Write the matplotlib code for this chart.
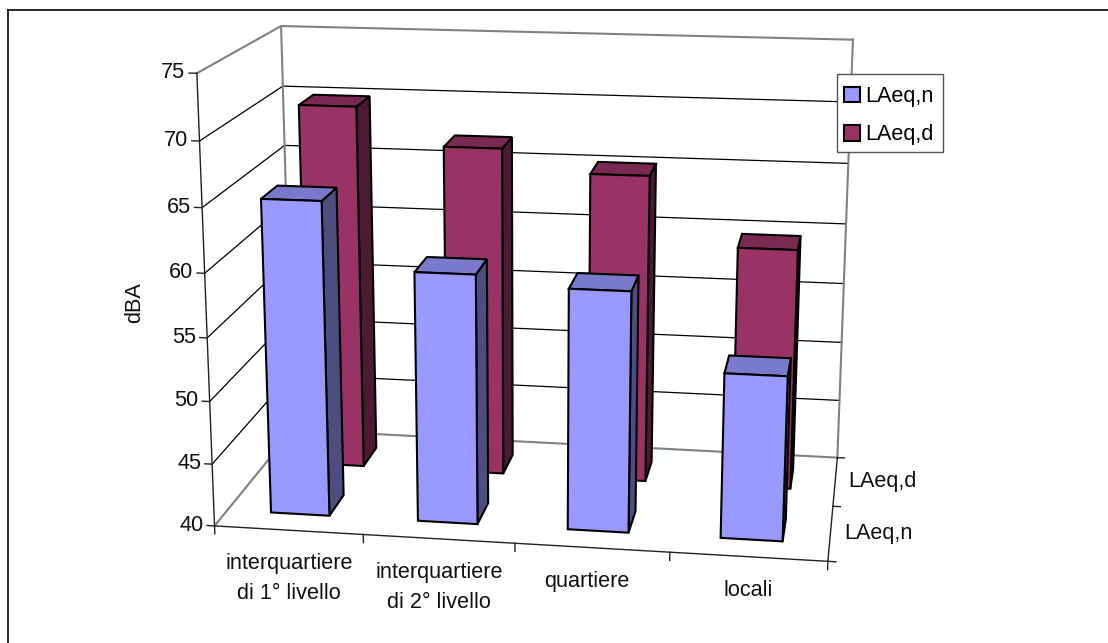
import numpy as np
import matplotlib
matplotlib.use("Agg")
import matplotlib.pyplot as plt
from matplotlib.patches import Patch, Rectangle
from mpl_toolkits.mplot3d.art3d import Poly3DCollection

plt.rcParams['font.family'] = ['Liberation Sans', 'DejaVu Sans']

# ========== 1. Data ==========
categories = ["interquartiere\ndi 1° livello", "interquartiere\ndi 2° livello", "quartiere", "locali"]
series_names = ["LAeq,n", "LAeq,d"]
laeq_n = [65, 59.8, 59, 53]
laeq_d = [70, 67, 65.2, 59.7]
dba_ticks = [40, 45, 50, 55, 60, 65, 70, 75]
dba_min = 40
dba_max = 75

W, H = 1108, 643
FONT = 15.6

# camera: box corners (category, series, dBA) -> pixel position in the figure
cam_box = np.array([
    [0, 0, 40], [4, 0, 40], [0, 2, 40], [4, 2, 40],
    [0, 0, 75], [0, 2, 75], [4, 2, 75],
    [0, 0, 70], [0, 2, 70], [0, 0, 45],
    [1, 0, 40], [2, 0, 40], [4, 1, 40],
], dtype=float)
cam_px = np.array([
    [215, 526], [827, 562], [292, 430], [838, 456],
    [197, 73], [281, 26], [853, 40],
    [199, 140], [283, 87], [213, 464],
    [363, 535], [515, 543], [833, 507],
], dtype=float)


def fit_camera(box, px):
    # direct linear transform on scaled coordinates
    S = np.array([[1/4, 0, 0, 0], [0, 1/2, 0, 0], [0, 0, 1/35, -40/35], [0, 0, 0, 1]])
    X = (S @ np.c_[box, np.ones(len(box))].T).T
    u = px[:, 0] / 1000
    v = (H - px[:, 1]) / 1000
    rows = []
    for Xi, ui, vi in zip(X, u, v):
        rows.append(np.r_[Xi, 0, 0, 0, 0, -ui * Xi])
        rows.append(np.r_[0, 0, 0, 0, Xi, -vi * Xi])
    p = np.linalg.svd(np.array(rows))[2][-1].reshape(3, 4)
    return np.diag([1000, 1000, 1]) @ p @ S


# ========== 2. Axes ==========
fig = plt.figure(figsize=(W / 100, H / 100), dpi=100, facecolor='white')
side = W / H
ax = fig.add_axes([0, (1 - side) / 2, 1, side], projection='3d', computed_zorder=False)
ax.set_axis_off()
ax.patch.set_visible(False)
for axis in (ax.xaxis, ax.yaxis, ax.zaxis):
    axis.set_visible(False)
    axis.label.set_visible(False)
    axis.offsetText.set_visible(False)
ax.apply_aspect()

P = ax.transData.inverted().get_matrix() @ fit_camera(cam_box, cam_px)
if P[2] @ np.array([2, 1, 57, 1]) < 0:
    P = -P
# depth must stay negative or Line3D clips the point
M = np.vstack([P[0], P[1], [0, 1, 0, -3], P[2]])
ax.get_proj = lambda: M

n_cat = len(categories)
n_ser = len(series_names)
gray = '#808080'
dark = '#222222'

# ========== 3. Walls and axis lines ==========
for z in dba_ticks:
    c = gray if z in (dba_min, dba_max) else 'black'
    ax.plot([0, 0, n_cat], [0, n_ser, n_ser], [z, z, z], color=c,
            lw=1.5 if c == gray else 0.9, zorder=1, solid_joinstyle='miter')
for x in (0, n_cat):
    ax.plot([x, x], [n_ser, n_ser], [dba_min, dba_max], color=gray, lw=1.5, zorder=1)

ax.plot([0, 0], [0, 0], [dba_min, dba_max], color=dark, lw=1.0, zorder=1.5)
ax.plot([0, n_cat], [0, 0], [dba_min, dba_min], color=dark, lw=1.0, zorder=1.5)
ax.plot([n_cat, n_cat], [0, n_ser], [dba_min, dba_min], color=dark, lw=1.0, zorder=1.5)

for z in dba_ticks:
    ax.plot([-0.05, 0], [0, 0], [z, z], color=dark, lw=1.0, zorder=1.5)
    ax.text(-0.075, 0, z, str(z), ha='right', va='center', fontsize=FONT, color='#111111')
for i in range(n_cat + 1):
    ax.plot([i, i], [0, 0], [dba_min - 0.65, dba_min], color=dark, lw=1.0, zorder=1.5)
for j in range(n_ser + 1):
    ax.plot([n_cat, n_cat + 0.05], [j, j], [dba_min, dba_min], color=dark, lw=1.0, zorder=1.5)

label_x = [0.5, 1.5, 2.47, 3.5]
for lx, cat in zip(label_x, categories):
    ax.text(lx, 0, dba_min - 1.85, cat, ha='center', va='top', fontsize=FONT,
            linespacing=1.6, color='#111111')
for j, name in enumerate(series_names):
    ax.text(n_cat + 0.09, j + 0.5, dba_min, name, ha='left', va='center', fontsize=FONT,
            color='#111111')

# ========== 4. Bars ==========
colors = [('#9999FF', '#4D4D80', '#7A7ACC'), ('#993366', '#4D1A33', '#7A2952')]


def draw_bar(i, j, value, cols, order):
    x0, x1 = i + 0.3, i + 0.7
    y0, y1 = j + 0.3, j + 0.7
    z0 = dba_min
    front = [(x0, y0, z0), (x1, y0, z0), (x1, y0, value), (x0, y0, value)]
    right = [(x1, y0, z0), (x1, y1, z0), (x1, y1, value), (x1, y0, value)]
    top = [(x0, y0, value), (x1, y0, value), (x1, y1, value), (x0, y1, value)]
    poly = Poly3DCollection([front, right, top], facecolors=list(cols), edgecolors='black',
                            linewidths=1.5, zorder=order)
    poly.set_joinstyle('miter')
    ax.add_collection3d(poly)


for i, v in enumerate(laeq_d):
    draw_bar(i, 1, v, colors[1], 2 + i * 0.01)
for i, v in enumerate(laeq_n):
    draw_bar(i, 0, v, colors[0], 3 + i * 0.01)

# ========== 5. Labels, legend and frame ==========
fig.text(135 / W, 1 - 303 / H, "dBA", rotation=90, ha='center', va='center',
         fontsize=FONT, color='#111111')

fig.add_artist(Rectangle((837 / W, 1 - 152 / H), 106 / W, 78 / H, transform=fig.transFigure,
                         facecolor='white', edgecolor='#555555', lw=1.0, zorder=4))
handles = [Patch(facecolor=colors[k][0], edgecolor='black', lw=1.5) for k in range(n_ser)]
leg = fig.legend(handles, series_names, loc='upper left', bbox_to_anchor=(844 / W, 1 - 86 / H),
                 bbox_transform=fig.transFigure, fontsize=FONT, frameon=False,
                 borderaxespad=0, borderpad=0, handlelength=0.74, handleheight=0.74,
                 handletextpad=0.22, labelspacing=0.8)
leg.set_zorder(5)

# top and left edges of the chart border
fig.add_artist(plt.Line2D([8 / W, 1], [1 - 10 / H, 1 - 10 / H], color='black', lw=1.2))
fig.add_artist(plt.Line2D([8 / W, 8 / W], [0, 1 - 10 / H], color='black', lw=1.2))

fig.savefig("out.png", dpi=100)
